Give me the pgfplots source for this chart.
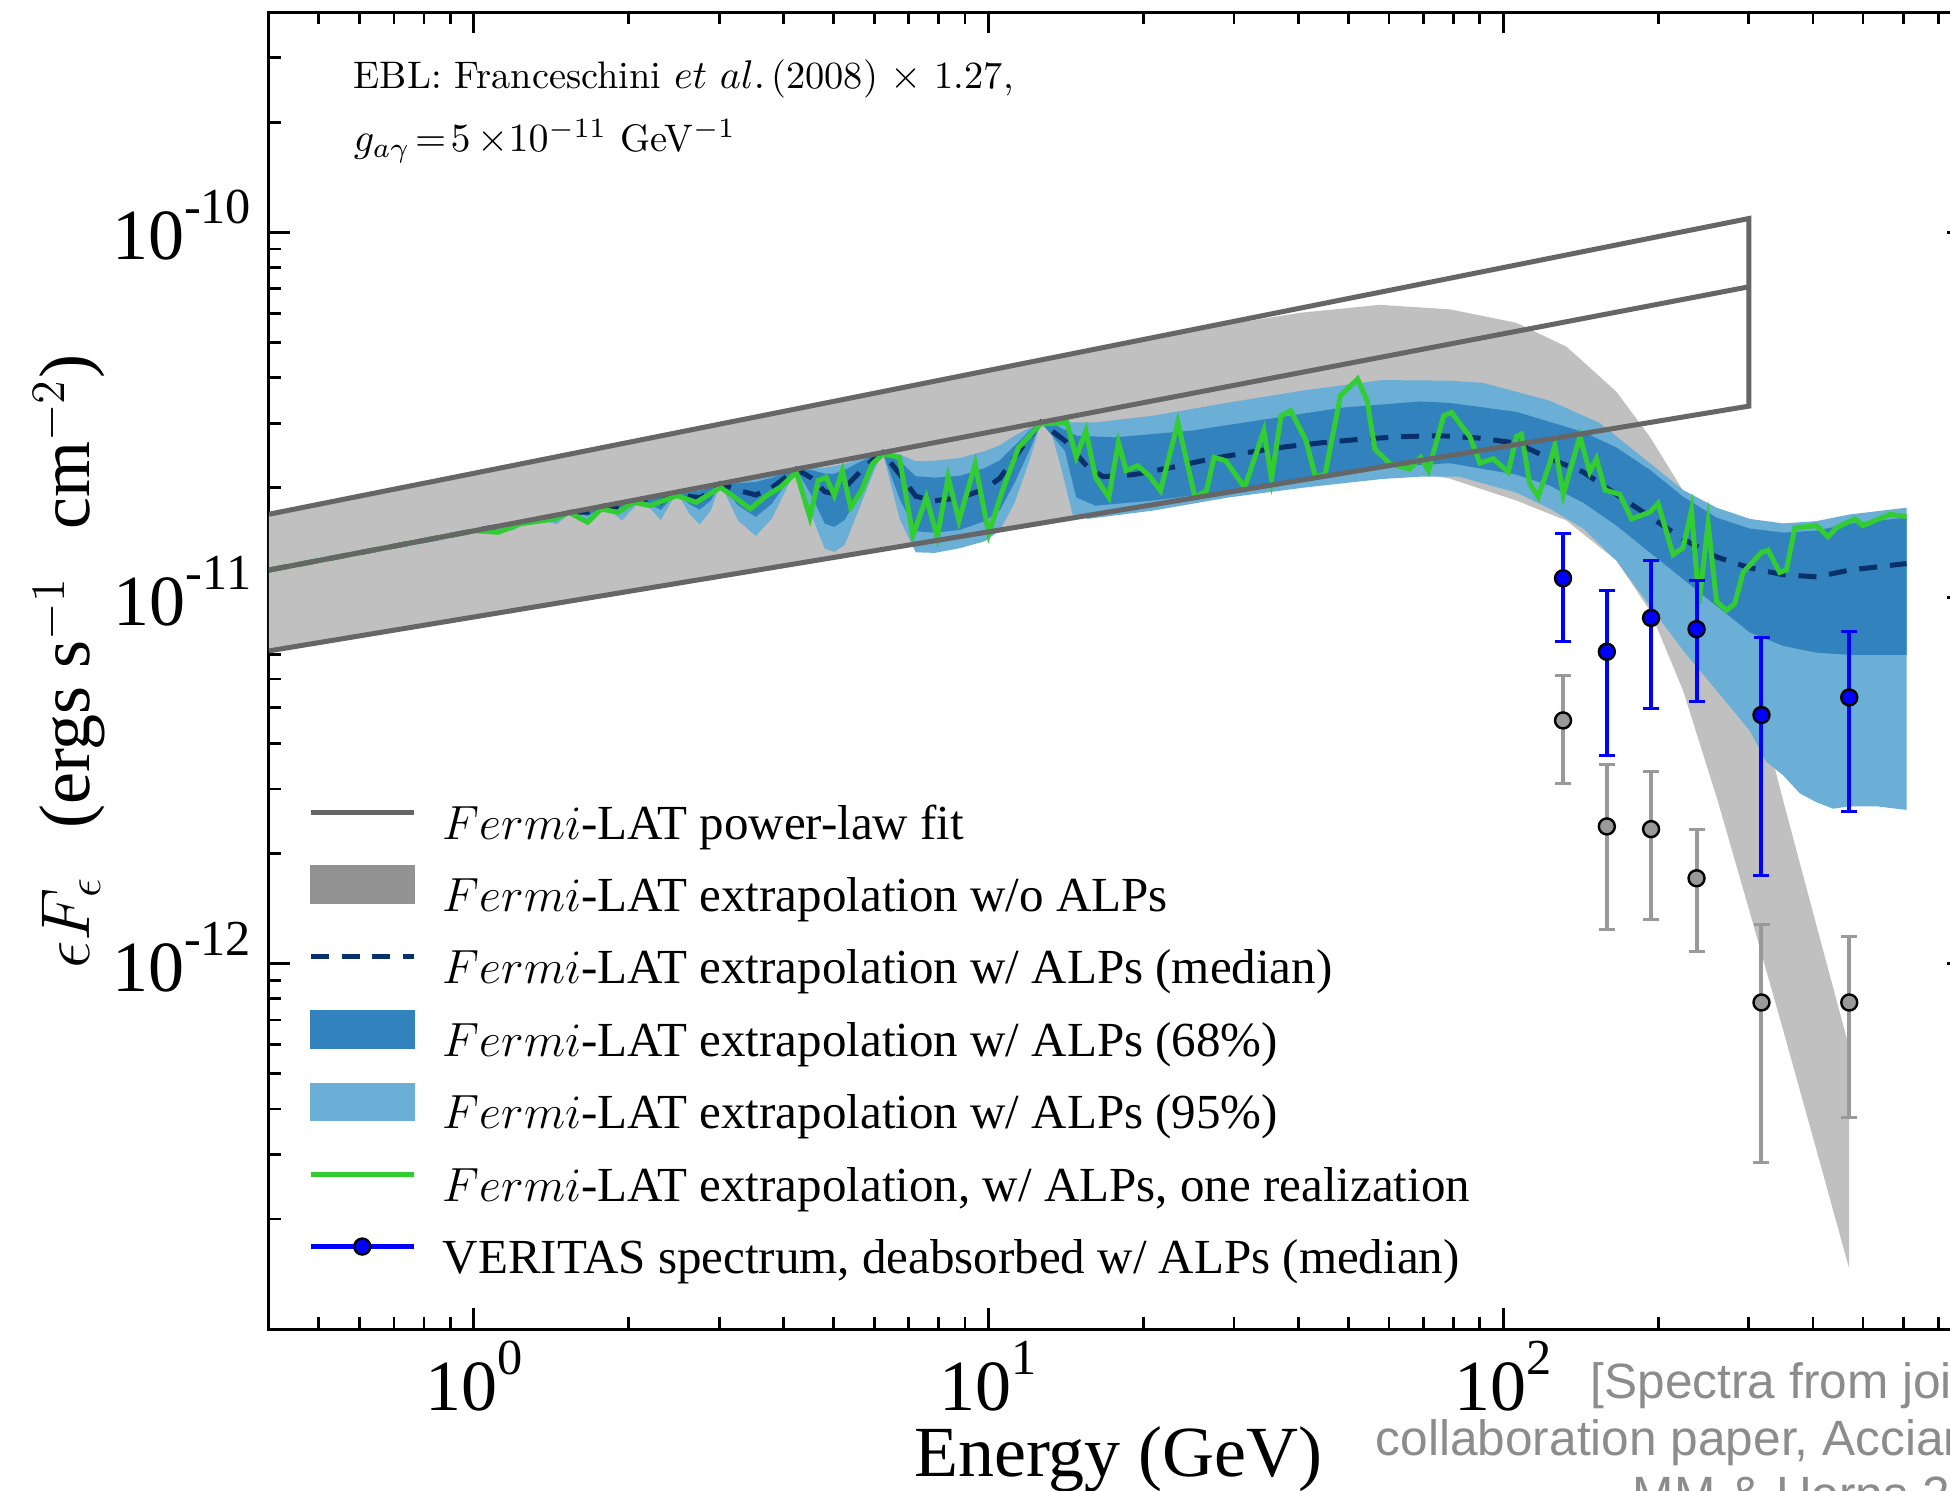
\documentclass[border=0pt]{standalone}
\usepackage{fontspec}
\usepackage{pgfplots}
\pgfplotsset{compat=1.18}
\newfontfamily\timesfont{Liberation Serif}
\newfontfamily\helvfont{Liberation Sans}
\definecolor{plgray}{RGB}{102,102,102}
\definecolor{bandgray}{RGB}{192,192,192}
\definecolor{patchgray}{RGB}{146,146,146}
\definecolor{lblue}{RGB}{107,174,214}
\definecolor{dblue}{RGB}{49,130,189}
\definecolor{navy}{RGB}{8,48,107}
\definecolor{lgreen}{RGB}{50,205,50}
\definecolor{vblue}{RGB}{0,0,255}
\definecolor{ptgray}{RGB}{153,153,153}
\definecolor{credit}{RGB}{140,140,140}
\newcommand{\sx}[1]{\raisebox{0.5em}{\fontsize{12.6}{13}\selectfont #1}}
\newcommand{\legbb}{\pgfpathmoveto{\pgfqpoint{0pt}{3.75pt}}\pgfpathlineto{\pgfqpoint{25.75pt}{3.75pt}}\pgfusepath{discard}}
\pgfplotsset{
 leg line/.style={legend image code/.code={\begin{pgfinterruptboundingbox}\draw[line width=1.25pt,#1] (0pt,3.75pt) -- (25.75pt,3.75pt);\end{pgfinterruptboundingbox}\legbb}},
 leg patch/.style={legend image code/.code={\begin{pgfinterruptboundingbox}\fill[#1] (0pt,-0.85pt) rectangle (25.75pt,8.35pt);\end{pgfinterruptboundingbox}\legbb}},
 leg dash/.style={legend image code/.code={\begin{pgfinterruptboundingbox}\draw[line width=1.25pt,#1,dash pattern=on 4.5pt off 3.2pt] (0pt,3.75pt) -- (25.75pt,3.75pt);\end{pgfinterruptboundingbox}\legbb}},
 leg ver/.style={legend image code/.code={\begin{pgfinterruptboundingbox}\draw[line width=1.25pt,#1] (0pt,3.75pt) -- (25.75pt,3.75pt); \filldraw[fill=vblue,draw=black,line width=0.6pt] (12.875pt,3.75pt) circle (2pt);\end{pgfinterruptboundingbox}\legbb}},
}
\begin{document}
\begin{tikzpicture}
\path (-67.25pt,-40.25pt) rectangle (420.25pt,332.25pt);
\begin{pgfinterruptboundingbox}
\clip (-67.25pt,-40.25pt) rectangle (420.25pt,332.25pt);
\begin{axis}[
 at={(0pt,0pt)}, anchor=south west,
 scale only axis, width=424.75pt, height=329.25pt,
 xmode=log, ymode=log,
 xmin=0.4, xmax=800, ymin=1e-13, ymax=4e-10,
 xtick={1,10,100}, xticklabels={10\sx{0},10\sx{1},10\sx{2}},
 ytick={1e-12,1e-11,1e-10}, yticklabels={10\sx{-12},10\sx{-11},10\sx{-10}},
 minor xtick={0.5,0.6,0.7,0.8,0.9,2,3,4,5,6,7,8,9,20,30,40,50,60,70,80,90,200,300,400,500,600,700},
 minor ytick={2e-13,3e-13,4e-13,5e-13,6e-13,7e-13,8e-13,9e-13,2e-12,3e-12,4e-12,5e-12,6e-12,7e-12,8e-12,9e-12,2e-11,3e-11,4e-11,5e-11,6e-11,7e-11,8e-11,9e-11,2e-10,3e-10},
 tick align=inside, major tick length=5.2pt, minor tick length=3.1pt,
 tick style={black, line width=0.7pt},
 axis line style={line width=0.75pt},
 tick label style={font=\timesfont\fontsize{18}{20}\selectfont},
 xticklabel style={anchor=north, inner sep=0pt, yshift=-2.75pt},
 yticklabel style={anchor=base east, inner sep=0pt, xshift=-4.25pt, yshift=-6.9pt},
 label style={font=\timesfont\fontsize{18}{20}\selectfont},
 xlabel={Energy (GeV)},
 ylabel={$\epsilon F_{\epsilon}$\ \,\ (ergs s$^{-1}$\ \,\ cm$^{-2}$)},
 xlabel style={at={(axis description cs:0.5,0)}, anchor=base, yshift=-36.75pt, inner sep=0pt},
 ylabel style={at={(axis description cs:-0.1054,0.5067)}, anchor=base, inner sep=0pt},
 legend cell align=left,
 legend style={at={(axis description cs:0.02413,0.39993)}, anchor=north west, draw=none, fill=none, inner sep=0pt,
   row sep=6.1pt, font=\timesfont\fontsize{12.25}{15}\selectfont,
   nodes={inner sep=0pt, text height=9pt, text depth=3pt},
   /tikz/every odd column/.append style={column sep=7.3pt}},
]
% gray band: extrapolation without ALPs
\addplot[fill=bandgray, draw=none, forget plot] coordinates {
(0.4,1.693e-11) (16.45,4.817e-11) (25.74,5.442e-11) (40.25,6.019e-11) (57.60,6.329e-11) (78.75,6.152e-11) (106.1,5.652e-11) (132.8,4.860e-11) (166.0,3.661e-11) (192.7,2.759e-11) (223.6,1.964e-11) (259.7,1.264e-11) (301.4,6.33e-12) (349.9,2.79e-12) (406.1,1.27e-12) (469.9,5.91e-13)
(469.9,1.468e-13)
(406.1,3.09e-13) (349.9,6.57e-13) (301.4,1.38e-12) (261.0,2.79e-12) (223.6,5.58e-12) (192.7,9.23e-12) (166.0,1.264e-11) (132.8,1.626e-11) (106.1,1.845e-11) (78.75,2.118e-11) (58.38,2.285e-11) (0.4,7.16e-12)
};
% 95% band
\addplot[fill=lblue, draw=none, forget plot] coordinates {
(0.4,1.191e-11) (0.859,1.463e-11) (1.074,1.554e-11) (1.185,1.596e-11) (1.32,1.643e-11) (1.45,1.684e-11) (1.55,1.715e-11) (1.665,1.749e-11) (1.8,1.786e-11) (1.939,1.822e-11) (2.121,1.866e-11) (2.308,1.909e-11) (2.48,1.947e-11) (2.628,1.978e-11) (2.748,2.002e-11) (2.887,2.028e-11) (3.015,2.053e-11) (3.259,2.096e-11) (3.531,2.141e-11) (3.793,2.183e-11) (4.075,2.226e-11) (4.234,2.249e-11) (4.537,2.262e-11) (4.808,2.269e-11) (5.017,2.296e-11) (5.258,2.325e-11) (5.623,2.397e-11) (6.013,2.472e-11) (6.232,2.495e-11) (6.724,2.468e-11) (7.223,2.363e-11) (7.866,2.372e-11) (8.796,2.413e-11) (9.836,2.519e-11) (10.52,2.613e-11) (11.25,2.780e-11) (12.03,2.922e-11) (12.64,3.018e-11) (13.14,3.018e-11) (16.14,3.018e-11) (20.86,3.148e-11) (29.38,3.423e-11) (41.40,3.701e-11) (58.29,3.941e-11) (78.75,3.926e-11) (91.39,3.872e-11) (123.2,3.460e-11) (154.0,3.007e-11) (192.7,2.335e-11) (223.6,1.973e-11) (259.7,1.764e-11) (301.4,1.644e-11) (349.9,1.598e-11) (406.1,1.621e-11) (471.5,1.691e-11) (607.6,1.764e-11)
(607.6,2.63e-12) (531.2,2.69e-12) (471.5,2.69e-12) (437.4,2.65e-12) (406.1,2.76e-12) (376.9,2.92e-12) (349.9,3.27e-12) (324.8,3.56e-12) (301.4,4.33e-12) (259.7,5.58e-12) (223.6,7.18e-12) (192.7,9.50e-12) (166.0,1.264e-11) (143.0,1.547e-11) (123.2,1.754e-11) (106.1,1.940e-11) (82.06,2.145e-11) (69.17,2.145e-11) (58.29,2.114e-11) (41.40,2.005e-11) (29.38,1.883e-11) (20.86,1.732e-11) (15.59,1.644e-11) (14.56,1.696e-11) (13.83,2.275e-11) (13.14,2.956e-11) (12.64,3.018e-11) (12.03,2.390e-11) (11.25,1.824e-11) (10.52,1.530e-11) (9.836,1.428e-11) (8.796,1.367e-11) (7.866,1.327e-11) (7.223,1.332e-11) (6.724,1.640e-11) (6.232,2.495e-11) (6.013,2.250e-11) (5.623,1.772e-11) (5.258,1.396e-11) (5.017,1.336e-11) (4.808,1.363e-11) (4.537,1.673e-11) (4.234,2.249e-11) (4.075,2.026e-11) (3.793,1.645e-11) (3.531,1.477e-11) (3.259,1.630e-11) (3.015,2.053e-11) (2.887,1.733e-11) (2.748,1.587e-11) (2.628,1.690e-11) (2.48,1.947e-11) (2.308,1.631e-11) (2.121,1.866e-11) (1.939,1.627e-11) (1.8,1.786e-11) (1.665,1.612e-11) (1.55,1.715e-11) (1.45,1.591e-11) (1.32,1.643e-11) (1.185,1.527e-11) (1.074,1.554e-11) (0.859,1.436e-11) (0.4,1.191e-11)
};
% 68% band
\addplot[fill=dblue, draw=none, forget plot] coordinates {
(0.4,1.191e-11) (0.859,1.463e-11) (1.074,1.554e-11) (1.185,1.596e-11) (1.32,1.643e-11) (1.45,1.684e-11) (1.55,1.715e-11) (1.665,1.749e-11) (1.8,1.786e-11) (1.939,1.811e-11) (2.121,1.866e-11) (2.308,1.885e-11) (2.48,1.947e-11) (2.628,1.953e-11) (2.748,1.965e-11) (2.887,2.003e-11) (3.015,2.053e-11) (3.259,2.057e-11) (3.531,2.075e-11) (3.793,2.129e-11) (4.075,2.212e-11) (4.234,2.249e-11) (4.537,2.234e-11) (4.808,2.185e-11) (5.017,2.184e-11) (5.258,2.239e-11) (5.623,2.352e-11) (6.013,2.456e-11) (6.232,2.495e-11) (6.724,2.362e-11) (7.223,2.151e-11) (7.866,2.131e-11) (8.796,2.155e-11) (9.836,2.264e-11) (10.52,2.377e-11) (11.25,2.611e-11) (12.03,2.868e-11) (12.64,3.018e-11) (13.37,2.988e-11) (14.81,2.776e-11) (17.58,2.747e-11) (24.76,2.865e-11) (34.87,3.084e-11) (49.11,3.317e-11) (69.17,3.444e-11) (78.75,3.412e-11) (106.1,3.225e-11) (143.0,2.842e-11) (166.0,2.576e-11) (192.7,2.239e-11) (223.6,1.891e-11) (259.7,1.657e-11) (301.4,1.547e-11) (349.9,1.508e-11) (406.1,1.527e-11) (471.5,1.596e-11) (607.6,1.657e-11)
(607.6,6.98e-12) (471.5,6.98e-12) (406.1,7.08e-12) (349.9,7.39e-12) (301.4,8.04e-12) (259.7,9.50e-12) (223.6,1.125e-11) (192.7,1.331e-11) (166.0,1.576e-11) (143.0,1.822e-11) (123.2,2.027e-11) (106.1,2.172e-11) (78.75,2.335e-11) (58.29,2.275e-11) (41.40,2.114e-11) (29.38,1.964e-11) (20.86,1.845e-11) (16.14,1.787e-11) (14.81,1.883e-11) (14.07,2.526e-11) (12.64,3.018e-11) (12.03,2.545e-11) (11.25,2.069e-11) (10.52,1.736e-11) (9.836,1.622e-11) (8.796,1.534e-11) (7.866,1.507e-11) (7.223,1.521e-11) (6.724,1.860e-11) (6.232,2.495e-11) (6.013,2.321e-11) (5.623,1.948e-11) (5.258,1.634e-11) (5.017,1.564e-11) (4.808,1.595e-11) (4.537,1.897e-11) (4.234,2.249e-11) (4.075,2.090e-11) (3.793,1.808e-11) (3.531,1.665e-11) (3.259,1.791e-11) (3.015,2.053e-11) (2.887,1.845e-11) (2.748,1.743e-11) (2.628,1.800e-11) (2.48,1.947e-11) (2.308,1.737e-11) (2.121,1.866e-11) (1.939,1.711e-11) (1.8,1.786e-11) (1.665,1.674e-11) (1.55,1.715e-11) (1.45,1.632e-11) (1.32,1.643e-11) (1.185,1.566e-11) (1.074,1.554e-11) (0.859,1.454e-11) (0.4,1.191e-11)
};
% median
\addplot[navy, line width=1.25pt, dash pattern=on 4.5pt off 3.2pt, forget plot] coordinates {
(0.4,1.191e-11) (1.074,1.554e-11) (1.185,1.586e-11) (1.32,1.643e-11) (1.45,1.663e-11) (1.55,1.715e-11) (1.665,1.716e-11) (1.8,1.786e-11) (1.939,1.766e-11) (2.121,1.866e-11) (2.308,1.827e-11) (2.48,1.947e-11) (2.628,1.893e-11) (2.748,1.880e-11) (2.887,1.941e-11) (3.015,2.053e-11) (3.259,1.968e-11) (3.531,1.912e-11) (3.793,1.999e-11) (4.075,2.157e-11) (4.234,2.249e-11) (4.537,2.124e-11) (4.808,1.951e-11) (5.017,1.926e-11) (5.258,1.999e-11) (5.623,2.209e-11) (6.013,2.410e-11) (6.232,2.495e-11) (6.724,2.177e-11) (7.223,1.896e-11) (7.866,1.844e-11) (8.796,1.876e-11) (9.836,1.983e-11) (10.52,2.123e-11) (11.25,2.421e-11) (12.03,2.761e-11) (12.64,3.018e-11) (14.07,2.690e-11) (15.59,2.275e-11) (16.70,2.145e-11) (19.16,2.172e-11) (22.73,2.275e-11) (26.98,2.398e-11) (32.02,2.499e-11) (37.98,2.591e-11) (45.09,2.661e-11) (53.52,2.719e-11) (63.48,2.759e-11) (75.34,2.776e-11) (89.41,2.736e-11) (106.1,2.650e-11) (123.2,2.403e-11) (143.0,2.208e-11) (166.0,1.918e-11) (192.7,1.668e-11) (223.6,1.448e-11) (259.7,1.294e-11) (301.4,1.207e-11) (349.9,1.157e-11) (406.1,1.141e-11) (471.5,1.191e-11) (607.6,1.241e-11)
};
% one realization
\addplot[lgreen, line width=1.25pt, forget plot] coordinates {
(0.4,1.191e-11) (1.004,1.526e-11) (1.116,1.511e-11) (1.229,1.593e-11) (1.439,1.644e-11) (1.530,1.713e-11) (1.664,1.609e-11) (1.769,1.751e-11) (1.902,1.713e-11) (2.046,1.825e-11) (2.200,1.787e-11) (2.483,1.904e-11) (2.704,1.825e-11) (3.015,2.005e-11) (3.243,1.865e-11) (3.445,1.751e-11) (3.706,1.904e-11) (3.937,2.005e-11) (4.234,2.204e-11) (4.498,1.661e-11) (4.666,2.092e-11) (4.837,2.136e-11) (5.017,1.904e-11) (5.202,2.228e-11) (5.397,1.768e-11) (5.663,1.964e-11) (5.946,2.323e-11) (6.240,2.474e-11) (6.713,2.422e-11) (7.131,1.480e-11) (7.577,1.883e-11) (7.953,1.464e-11) (8.348,2.136e-11) (8.762,1.626e-11) (9.423,2.323e-11) (10.01,1.496e-11) (10.64,1.964e-11) (11.44,2.579e-11) (12.61,2.988e-11) (14.20,3.018e-11) (14.81,2.422e-11) (15.46,2.865e-11) (16.14,2.136e-11) (17.13,1.883e-11) (17.88,2.661e-11) (18.51,2.228e-11) (19.49,2.298e-11) (20.51,2.159e-11) (21.59,1.964e-11) (23.33,3.018e-11) (25.19,1.883e-11) (26.52,1.964e-11) (27.43,2.422e-11) (28.89,2.372e-11) (31.46,2.005e-11) (34.28,2.865e-11) (35.46,2.114e-11) (37.01,3.148e-11) (38.65,3.249e-11) (41.40,2.690e-11) (43.19,2.136e-11) (45.09,2.182e-11) (48.28,3.570e-11) (52.13,3.966e-11) (54.42,3.460e-11) (56.30,2.554e-11) (60.32,2.323e-11) (65.72,2.252e-11) (69.17,2.422e-11) (71.56,2.228e-11) (76.64,3.148e-11) (79.33,3.215e-11) (86.11,2.764e-11) (90.08,2.335e-11) (95.58,2.403e-11) (102.3,2.208e-11) (106.1,2.764e-11) (108.5,2.803e-11) (112.6,2.058e-11) (116.9,1.891e-11) (123.2,2.335e-11) (126.0,2.614e-11) (130.8,1.918e-11) (140.9,2.764e-11) (147.3,2.208e-11) (151.8,2.403e-11) (157.6,1.973e-11) (168.5,1.918e-11) (177.6,1.644e-11) (192.7,1.715e-11) (200.0,1.813e-11) (213.8,1.313e-11) (223.6,1.370e-11) (232.2,1.739e-11) (240.2,9.64e-12) (250.1,1.598e-11) (259.7,9.78e-12) (271.6,9.24e-12) (281.8,9.64e-12) (292.4,1.173e-11) (317.6,1.331e-11) (327.1,1.350e-11) (344.6,1.173e-11) (355.1,1.191e-11) (368.6,1.554e-11) (406.1,1.576e-11) (427.8,1.469e-11) (444.2,1.554e-11) (482.2,1.644e-11) (500.3,1.576e-11) (563.8,1.691e-11) (607.6,1.668e-11)
};
% power-law fit lines
\addplot[plgray, line width=1.25pt, forget plot] coordinates {(0.4,1.693e-11) (300,1.090e-10) (300,3.344e-11) (0.4,7.16e-12)};
\addplot[plgray, line width=1.25pt, forget plot] coordinates {(0.4,1.191e-11) (300,7.089e-11)};
% VERITAS points (gray)
\addplot[only marks, mark=*, mark size=2pt, mark options={fill=ptgray, draw=black, line width=0.6pt}, forget plot,
  error bars/.cd, y dir=both, y explicit, error bar style={line width=1pt, ptgray},
  error mark options={rotate=90, mark size=2pt, line width=0.75pt, ptgray}]
  table[x=x, y=y, y error plus=ep, y error minus=em] {
x y ep em
130.7 4.62e-12 1.50e-12 1.51e-12
159.0 2.37e-12 1.12e-12 1.13e-12
193.8 2.33e-12 1.01e-12 1.01e-12
237.5 1.71e-12 0.62e-12 0.63e-12
317.6 7.82e-13 4.96e-13 4.97e-13
470.3 7.82e-13 4.04e-13 4.03e-13
};
% VERITAS deabsorbed w/ ALPs (blue)
\addplot[only marks, mark=*, mark size=2pt, mark options={fill=vblue, draw=black, line width=0.6pt}, forget plot,
  error bars/.cd, y dir=both, y explicit, error bar style={line width=1pt, vblue},
  error mark options={rotate=90, mark size=2pt, line width=0.75pt, vblue}]
  table[x=x, y=y, y error plus=ep, y error minus=em] {
x y ep em
130.7 1.131e-11 3.67e-12 3.71e-12
159.0 7.12e-12 3.37e-12 3.41e-12
193.8 8.81e-12 3.85e-12 3.83e-12
237.5 8.21e-12 2.97e-12 3.01e-12
317.6 4.78e-12 3.03e-12 3.04e-12
470.3 5.34e-12 2.73e-12 2.74e-12
};
\addlegendimage{leg line=plgray}
\addlegendentry{$Fermi$-LAT power-law fit}
\addlegendimage{leg patch=patchgray}
\addlegendentry{$Fermi$-LAT extrapolation w/o ALPs}
\addlegendimage{leg dash=navy}
\addlegendentry{$Fermi$-LAT extrapolation w/ ALPs (median)}
\addlegendimage{leg patch=dblue}
\addlegendentry{$Fermi$-LAT extrapolation w/ ALPs (68\%)}
\addlegendimage{leg patch=lblue}
\addlegendentry{$Fermi$-LAT extrapolation w/ ALPs (95\%)}
\addlegendimage{leg line=lgreen}
\addlegendentry{$Fermi$-LAT extrapolation, w/ ALPs, one realization}
\addlegendimage{leg ver=vblue}
\addlegendentry{VERITAS spectrum, deabsorbed w/ ALPs (median)}
\end{axis}
\node[anchor=base west, inner sep=0pt, font=\fontsize{9.6}{12}\selectfont] at (21pt,310.2pt) {EBL: Franceschini $et\ al.$\,(2008) $\times$ 1.27,};
\node[anchor=base west, inner sep=0pt, font=\fontsize{9.6}{12}\selectfont] at (21pt,294.3pt) {$g_{a\gamma}\!=\!5\,{\times}10^{-11}$\ GeV$^{-1}$};
\node[anchor=base west, inner sep=0pt, text=credit, font=\helvfont\fontsize{12.4}{14}\selectfont] at (330.25pt,-17.33pt) {[Spectra from joint Fermi/VERITAS};
\node[anchor=base west, inner sep=0pt, text=credit, font=\helvfont\fontsize{12.4}{14}\selectfont] at (276.5pt,-31.5pt) {collaboration paper, Acciari et al. 2010;};
\node[anchor=base west, inner sep=0pt, text=credit, font=\helvfont\fontsize{12.4}{14}\selectfont] at (340.75pt,-45.6pt) {MM \& Horns 2012]};
\end{pgfinterruptboundingbox}
\end{tikzpicture}
\end{document}
